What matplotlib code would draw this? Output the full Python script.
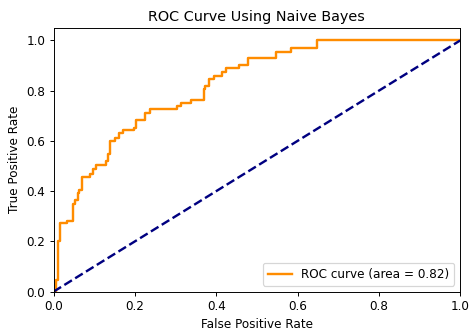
import numpy as np
import matplotlib
matplotlib.use("Agg")
import matplotlib.pyplot as plt

# ROC breakpoints: at each fpr the curve jumps up to tpr
fpr = [0.0, 0.006, 0.012, 0.016, 0.032, 0.049, 0.053, 0.060, 0.063, 0.069,
       0.090, 0.096, 0.105, 0.128, 0.134, 0.140, 0.151, 0.161, 0.170, 0.198,
       0.204, 0.225, 0.237, 0.303, 0.313, 0.337, 0.369, 0.373, 0.382, 0.395,
       0.414, 0.425, 0.455, 0.477, 0.546, 0.585, 0.648, 1.0]
tpr = [0.0, 0.047, 0.200, 0.273, 0.283, 0.347, 0.363, 0.393, 0.403, 0.456,
       0.467, 0.487, 0.505, 0.520, 0.547, 0.600, 0.613, 0.633, 0.643, 0.653,
       0.684, 0.713, 0.727, 0.740, 0.751, 0.764, 0.807, 0.820, 0.847, 0.860,
       0.873, 0.889, 0.903, 0.929, 0.953, 0.969, 1.0, 1.0]
roc_auc = 0.82

dpi = 86.4
fig = plt.figure(figsize=(474 / dpi, 336 / dpi), dpi=dpi)
ax = fig.add_axes([0.1129, 0.132, 0.858, 0.785])
ax.plot(fpr, tpr, color="darkorange", lw=2, drawstyle="steps-post",
        label="ROC curve (area = %0.2f)" % roc_auc)
ax.plot([0, 1], [0, 1], color="navy", lw=2, linestyle="--")
ax.set_xlim([0.0, 1.0])
ax.set_ylim([0.0, 1.05])
ax.set_xlabel("False Positive Rate")
ax.set_ylabel("True Positive Rate")
ax.set_title("ROC Curve Using Naive Bayes")
ax.legend(loc="lower right")
fig.savefig("out.png", dpi=dpi)
